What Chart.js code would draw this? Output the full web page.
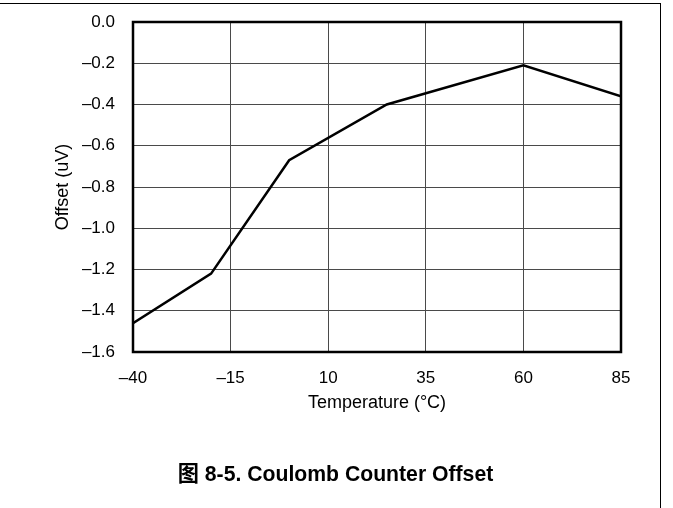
<!DOCTYPE html>
<html>
<head>
<meta charset="utf-8">
<script src="https://cdn.jsdelivr.net/npm/chart.js@4/dist/chart.umd.min.js"></script>
<style>
  html, body { margin: 0; padding: 0; background: #fff; }
  #wrap { position: relative; width: 673px; height: 508px; overflow: hidden; }
  #frame { position: absolute; left: -2px; top: 3px; width: 663px; height: 520px;
           border-top: 1px solid #000; border-right: 1px solid #000; box-sizing: border-box; }
  canvas { position: absolute; left: 0; top: 0; }
  #caption { position: absolute; left: 0; width: 671px; top: 456px; text-align: center;
             font-family: "Liberation Sans", Arial, "Noto Sans CJK SC", sans-serif;
             font-weight: bold; font-size: 21.2px; color: #000; }
</style>
</head>
<body>
<div id="wrap">
  <canvas id="c" width="673" height="508"></canvas>
  <div id="frame"></div>
  <div id="caption">图 8-5. Coulomb Counter Offset</div>
</div>
<script>
const temperatures = [-40, -20, 0, 25, 60, 85];
const offsets = [-1.46, -1.22, -0.67, -0.40, -0.21, -0.36];
const xTicks = [-40, -15, 10, 35, 60, 85];
const yTicks = [0.0, -0.2, -0.4, -0.6, -0.8, -1.0, -1.2, -1.4, -1.6];

const dash = s => s.replace('-', '\u2013');
const FONT = "'Liberation Sans', Arial, sans-serif";

const framePlugin = {
  id: 'frame',
  afterDatasetsDraw(chart) {
    const a = chart.chartArea, ctx = chart.ctx;
    ctx.save();
    ctx.strokeStyle = '#000';
    ctx.lineWidth = 2.5;
    ctx.strokeRect(a.left, a.top, a.right - a.left, a.bottom - a.top);
    ctx.restore();
  }
};

new Chart(document.getElementById('c'), {
  type: 'line',
  data: {
    datasets: [{
      data: temperatures.map((t, i) => ({ x: t, y: offsets[i] })),
      borderColor: '#000',
      borderWidth: 2.5,
      pointRadius: 0,
      tension: 0,
      fill: false
    }]
  },
  options: {
    responsive: false,
    animation: false,
    devicePixelRatio: 1,
    layout: { padding: { left: 48, top: 22, right: 52, bottom: 88 } },
    plugins: { legend: { display: false }, tooltip: { enabled: false } },
    scales: {
      x: {
        type: 'linear',
        min: -40, max: 85,
        afterBuildTicks: s => { s.ticks = xTicks.map(v => ({ value: v })); },
        afterFit: s => { s.height = 68; s.paddingLeft = 0; s.paddingRight = 0; },
        grid: { color: '#4a4a4a', lineWidth: 1, drawTicks: false },
        border: { display: false },
        ticks: {
          padding: 16,
          color: '#000',
          font: { family: FONT, size: 17 },
          callback: v => dash(String(v))
        },
        title: {
          display: true,
          text: 'Temperature (°C)',
          color: '#000',
          font: { family: FONT, size: 18 },
          padding: { top: 0, bottom: 6 }
        }
      },
      y: {
        min: -1.6, max: 0,
        afterBuildTicks: s => { s.ticks = yTicks.map(v => ({ value: v })); },
        afterFit: s => { s.width = 85; s.paddingTop = 0; s.paddingBottom = 0; },
        grid: { color: '#4a4a4a', lineWidth: 1, drawTicks: false },
        border: { display: false },
        ticks: {
          padding: 18,
          color: '#000',
          font: { family: FONT, size: 17 },
          callback: v => dash(Number(v).toFixed(1))
        },
        title: {
          display: true,
          text: 'Offset (uV)',
          color: '#000',
          font: { family: FONT, size: 18 },
          padding: { top: 4, bottom: 0 }
        }
      }
    }
  },
  plugins: [framePlugin]
});
</script>
</body>
</html>
